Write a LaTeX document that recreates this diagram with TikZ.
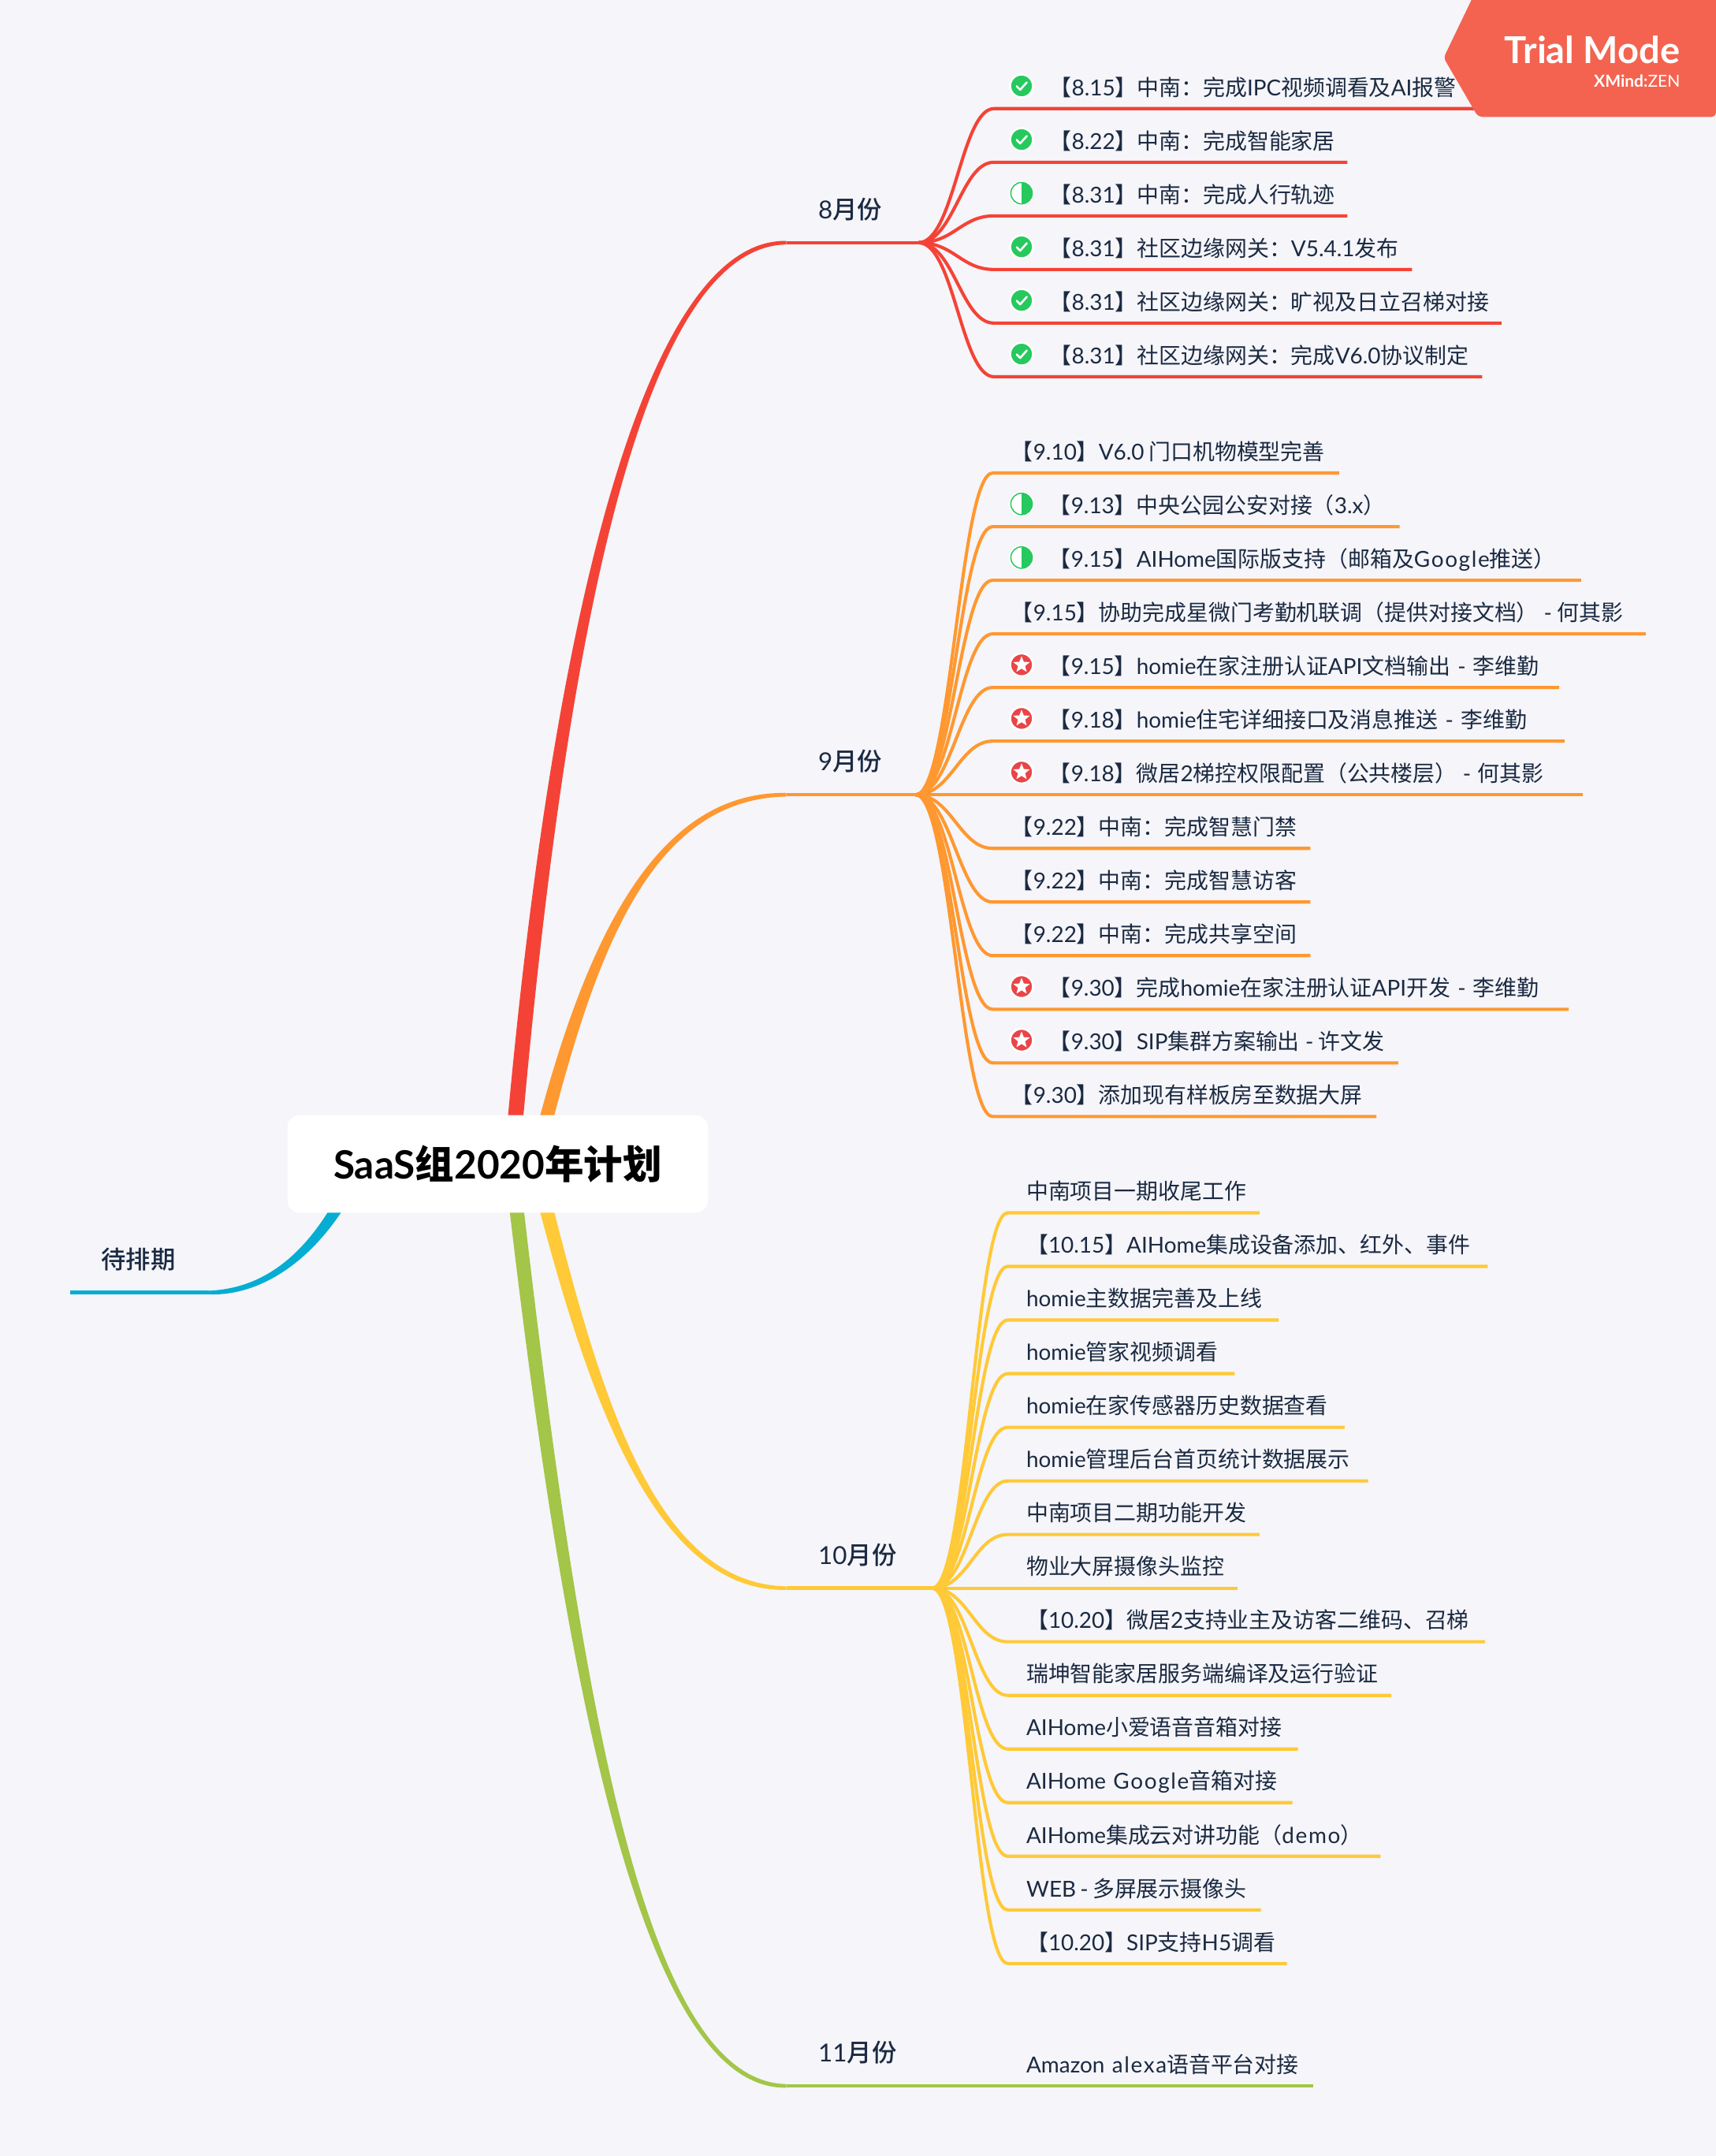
\documentclass[tikz,border=0pt]{standalone}
\usepackage{fontspec}
\usetikzlibrary{calc,shapes.geometric}
\setmainfont{Lato}
\newfontfamily\latf{Lato}
\newfontfamily\latw{Lato}[LetterSpace=6]
\newfontfamily\cjkf{Noto Sans CJK SC}
\newfontfamily\cjkm{Noto Sans CJK SC Medium}
\newcount\cc
\newdimen\ulen \ulen=1.7444pt
\cc=32 \loop \XeTeXcharclass\cc=0 \advance\cc 1 \ifnum\cc<127 \repeat
\cc="3000 \loop \XeTeXcharclass\cc=100 \advance\cc 1 \ifnum\cc<"3040 \repeat
\cc="4E00 \loop \XeTeXcharclass\cc=100 \advance\cc 1 \ifnum\cc<"A000 \repeat
\cc="FF00 \loop \XeTeXcharclass\cc=100 \advance\cc 1 \ifnum\cc<"FFF0 \repeat
\let\cjkcur\cjkf
\let\latcur\latf
\XeTeXinterchartoks 0 100 = {\cjkcur}
\XeTeXinterchartoks 4095 100 = {\cjkcur}
\XeTeXinterchartoks 100 0 = {\latcur}
\XeTeXinterchartoks 4095 0 = {\latcur}
\newcommand\mixon{\XeTeXinterchartokenstate=1 }
\newcommand\wider[1]{{\let\latcur\latw #1}}
\definecolor{bgc}{HTML}{F5F5FA}
\definecolor{inkc}{HTML}{1B2A41}
\definecolor{redc}{HTML}{F44336}
\definecolor{orac}{HTML}{FF9830}
\definecolor{yelc}{HTML}{FFC937}
\definecolor{grnc}{HTML}{A3C548}
\definecolor{bluc}{HTML}{06ADD2}
\definecolor{trialc}{HTML}{F46350}
\definecolor{okc}{HTML}{26C95E}
\definecolor{starc}{HTML}{E94548}
\pgfdeclarelayer{bg}
\pgfdeclarelayer{bgbottom}
\pgfsetlayers{bgbottom,bg,main}
\tikzset{
  leaftext/.style={inner sep=0pt,outer sep=0pt,anchor=south west,minimum height=47.5pt,
    text=inkc,align=left,font=\mixon\fontsize{27.9}{33}\selectfont\latf},
  monthtext/.style={inner sep=0pt,outer sep=0pt,anchor=south west,minimum height=76.8pt,
    text=inkc,align=left,font=\mixon\let\cjkcur\cjkm\fontsize{31.4}{37}\selectfont\latf},
  conn/.style={line width=4.1pt,line cap=butt},
  hubline/.style={line width=4.6pt,line cap=butt},
  iconbase/.style={circle,inner sep=0pt,minimum size=29pt,draw=white,line width=2.6pt},
  icongood/.style={iconbase,fill=okc},
  iconhalf/.style={iconbase,fill=white},
  iconstar/.style={iconbase,fill=starc},
}
\newcommand\body[2]{\rule[-.3em]{0pt}{1.1em}\rlap{\smash{\kern#1\ulen\relax #2}}}
% \leaf{name}{underline y}{end x}{text offset}{text}
\newcommand\leaf[5]{%
  \node[leaftext,text width={(#3-\xs)*1.7444pt}] (#1) at (\xs,#2) {\body{#4}{#5}};
  \begin{pgfonlayer}{bg}
    \draw[conn,\colr] (\hub) .. controls ($(\hub)+(26,0)$) and ($(#1.south west)+(-24,0)$) .. (#1.south west) -- (#1.south east);
  \end{pgfonlayer}}
% \monthnode{name}{underline y}{start x}{end x}{text offset}{colour}{text}
\newcommand\monthnode[7]{%
  \node[monthtext,text width={(#4-#3)*1.7444pt}] (#1) at (#3,#2) {\rule[-.3em]{0pt}{1.1em}\rlap{\smash{\kern#5pt\relax #7}}};
  \begin{pgfonlayer}{bg}
    \draw[hubline,#6] (#1.south west) -- (#1.south east);
  \end{pgfonlayer}}
% \branch{colour}{x offset from root}{control 1}{control 2}{end}{half width}{side sign}
\newcommand\branch[7]{%
  \begin{pgfonlayer}{bg}
  \fill[#1] ($(root.center)+(#2-#6,0)$) .. controls ($(#3)+(-#6,0)$) and ($(#4)+(0,#7*-3)$) ..
     ($(#5)+(0,#7*-1.3)$) -- ($(#5)+(0,#7*1.3)$) .. controls ($(#4)+(0,#7*3)$) and ($(#3)+(#6,0)$) ..
     ($(root.center)+(#2+#6,0)$) -- cycle;
  \end{pgfonlayer}}
\newcommand\icgood[2]{\node[icongood] (#1) at (743,#2-16.5) {};
  \draw[white,line width=2.6pt,line cap=round,line join=round] ($(#1.center)+(-3.6,0.2)$) -- ($(#1.center)+(-1,2.8)$) -- ($(#1.center)+(3.8,-2.6)$);}
\newcommand\ichalf[2]{\node[iconhalf] (#1) at (743,#2-16.5) {};
  \draw[okc,line width=1.5pt] (#1.center) circle[radius=13.6pt];
  \fill[okc] ([yshift=-13.6pt]#1.center) arc[start angle=-90,end angle=90,radius=13.6pt] -- cycle;}
\newcommand\icstar[2]{\node[iconstar] (#1) at (743,#2-16.5) {};
  \node[star,star points=5,star point ratio=2.3,fill=white,inner sep=0pt,minimum size=22pt] (#1s) at (#1.center) {};}
\begin{document}
\begin{tikzpicture}[x=1.7444pt,y=-1.7444pt]
\useasboundingbox (0,0) rectangle (1248,1568);
\begin{pgfonlayer}{bgbottom}
\fill[bgc] (0,0) rectangle (1248,1568);
\end{pgfonlayer}
\node[fill=white,rounded corners=16pt,minimum width=306*1.7444pt,minimum height=71*1.7444pt,inner sep=0pt,
  font=\mixon\bfseries\fontsize{49.5}{56}\selectfont\latf,text=black] (root) at (362,846.5) {SaaS组2020年计划};
% month topics
\monthnode{m8}{176.5}{572}{668}{40.5}{redc}{8月份}
\monthnode{m9}{578}{572}{666}{40.5}{orac}{9月份}
\monthnode{m10}{1155}{572}{678}{40.5}{yelc}{10月份}
\monthnode{m11}{1517}{572}{733}{40.5}{grnc}{11月份}
\monthnode{mw}{940}{51}{152}{39.5}{bluc}{待排期}
\branch{redc}{10}{406,446}{470,176.5}{m8.south west}{5.6}{1}
\branch{orac}{27}{425,700}{470,578}{m9.south west}{5.2}{1}
\branch{yelc}{27}{427,996}{470,1155}{m10.south west}{5.2}{-1}
\branch{grnc}{10}{417,1246}{470,1517}{m11.south west}{5.2}{-1}
\branch{bluc}{-100}{232,915}{190,940}{mw.south east}{5.2}{1}
% August
\def\hub{m8.south east}\def\colr{redc}\def\xs{723}
\leaf{a1}{79}{1090}{40.5}{【8.15】中南：完成IPC视频调看及AI报警}\icgood{ia1}{79}
\leaf{a2}{118}{980}{40.5}{【8.22】中南：完成智能家居}\icgood{ia2}{118}
\leaf{a3}{157}{980}{40.5}{【8.31】中南：完成人行轨迹}\ichalf{ia3}{157}
\leaf{a4}{196}{1027}{40.5}{【8.31】社区边缘网关：V5.4.1发布}\icgood{ia4}{196}
\leaf{a5}{235}{1092}{40.5}{【8.31】社区边缘网关：旷视及日立召梯对接}\icgood{ia5}{235}
\leaf{a6}{274}{1078}{40.5}{【8.31】社区边缘网关：完成V6.0协议制定}\icgood{ia6}{274}
% September
\def\hub{m9.south east}\def\colr{orac}\def\xs{722}
\leaf{s1}{344}{974}{13.5}{【9.10】V6.0\hspace{-3.5pt} 门口机物模型完善}
\leaf{s2}{383}{1018}{41}{【9.13】中央公园公安对接（3.x）}\ichalf{is2}{383}
\leaf{s3}{422}{1150}{41}{【9.15】AIHome国际版支持（邮箱及\wider{Google}推送）}\ichalf{is3}{422}
\leaf{s4}{461}{1197}{13.5}{【9.15】协助完成星微门考勤机联调（提供对接文档）\hspace{-2.5pt} -\hspace{-2.5pt} 何其影}
\leaf{s5}{500}{1134}{41}{【9.15】homie在家注册认证API文档输出 - 李维勤}\icstar{is5}{500}
\leaf{s6}{539}{1138}{41}{【9.18】homie住宅详细接口及消息推送 - 李维勤}\icstar{is6}{539}
\leaf{s7}{578}{1151}{41}{【9.18】微居2梯控权限配置（公共楼层）\hspace{-2pt} -\hspace{-1pt} 何其影}\icstar{is7}{578}
\leaf{s8}{617}{953}{13.5}{【9.22】中南：完成智慧门禁}
\leaf{s9}{656}{953}{13.5}{【9.22】中南：完成智慧访客}
\leaf{s10}{695}{953}{13.5}{【9.22】中南：完成共享空间}
\leaf{s11}{734}{1141}{41}{【9.30】完成homie在家注册认证API开发 - 李维勤}\icstar{is11}{734}
\leaf{s12}{773}{1017}{41}{【9.30】SIP集群方案输出\hspace{-2pt} -\hspace{-3pt} 许文发}\icstar{is12}{773}
\leaf{s13}{812}{1001}{13.5}{【9.30】添加现有样板房至数据大屏}
% October
\def\hub{m10.south east}\def\colr{yelc}\def\xs{733}
\leaf{o1}{882}{916}{13.5}{中南项目一期收尾工作}
\leaf{o2}{921}{1082}{13.5}{【10.15】AIHome集成设备添加、红外、事件}
\leaf{o3}{960}{930}{13.5}{homie主数据完善及上线}
\leaf{o4}{999}{898}{13.5}{homie管家视频调看}
\leaf{o5}{1038}{978}{13.5}{homie在家传感器历史数据查看}
\leaf{o6}{1077}{995}{13.5}{homie管理后台首页统计数据展示}
\leaf{o7}{1116}{916}{13.5}{中南项目二期功能开发}
\leaf{o8}{1155}{900}{13.5}{物业大屏摄像头监控}
\leaf{o9}{1194}{1080}{13.5}{【10.20】微居2支持业主及访客二维码、召梯}
\leaf{o10}{1233}{1012}{13.5}{瑞坤智能家居服务端编译及运行验证}
\leaf{o11}{1272}{944}{13.5}{AIHome小爱语音音箱对接}
\leaf{o12}{1311}{940}{13.5}{AIHome \wider{Google}音箱对接}
\leaf{o13}{1350}{1004}{13.5}{AIHome集成云对讲功能（\wider{demo}）}
\leaf{o14}{1389}{917}{13.5}{WEB\hspace{-4pt} -\hspace{-4pt} 多屏展示摄像头}
\leaf{o15}{1428}{936}{13.5}{【10.20】SIP支持H5调看}
% November
\def\hub{m11.south east}\def\colr{grnc}\def\xs{733}
\leaf{n1}{1517}{955}{13.5}{Amazon \wider{alexa}语音平台对接}
% trial badge
\fill[trialc,rounded corners=5pt] (1075,-10) -- (1050,42) -- (1075,85) -- (1248,85) -- (1248,-10) -- cycle;
\node[inner sep=0pt,anchor=east,text=white,font=\bfseries\fontsize{47}{54}\selectfont\latf] (trial) at (1222,36) {Trial Mode};
\node[inner sep=0pt,anchor=east,text=white,font=\fontsize{21}{24}\selectfont\latf] (xm) at (1222,59) {\textbf{XMind:}ZEN};
\end{tikzpicture}
\end{document}
